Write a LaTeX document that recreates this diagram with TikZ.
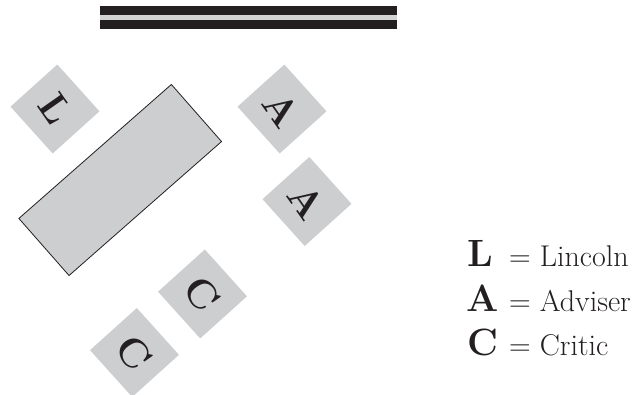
\documentclass[tikz,border=0pt]{standalone}
\usepackage{fontspec}
\definecolor{seatgray}{RGB}{205,206,208}
\definecolor{bargray}{RGB}{210,210,210}
\definecolor{barblack}{RGB}{35,31,32}
\begin{document}
\begin{tikzpicture}[x=1pt,y=-1pt,
  seat/.style={fill=seatgray, minimum size=63pt, inner sep=0pt, rotate=-48},
  seatletter/.style={font=\fontsize{40}{40}\selectfont\bfseries, rotate=-55, inner sep=0pt, text=barblack},
  tablebox/.style={draw=barblack, fill=seatgray, line width=0.8pt, minimum width=203pt, minimum height=76pt, inner sep=0pt, rotate=41.3},
  keyletter/.style={font=\fontsize{38}{38}\selectfont\bfseries, anchor=base west, inner sep=0pt, text=barblack},
  keytext/.style={font=\fontsize{30}{30}\selectfont, anchor=base west, inner sep=0pt, text=barblack}]
\useasboundingbox (0,0) rectangle (643,395);

% wall with double rule
\fill[barblack] (100,6) rectangle (397,15.5);
\fill[bargray] (100,15.5) rectangle (397,20.5);
\fill[barblack] (100,20.5) rectangle (397,29.5);

% the table
\node[tablebox] (table) at (120.2,180) {};

% seats
\node[seat] (seatL) at (55,109) {};
\node[seatletter] (letL) at (seatL.center) {L};
\node[seat] (seatA1) at (282,109) {};
\node[seatletter] (letA1) at (seatA1.center) {A};
\node[seat] (seatA2) at (307,201.5) {};
\node[seatletter] (letA2) at (seatA2.center) {A};
\node[seat] (seatC1) at (202.5,294) {};
\node[seatletter] (letC1) at (seatC1.center) {C};
\node[seat] (seatC2) at (134.5,352.5) {};
\node[seatletter] (letC2) at (seatC2.center) {C};

% key
\node[keyletter] (keyL) at (467,266.5) {L};
\node[keytext] (txtL) at (509,266.5) {= Lincoln};
\node[keyletter] (keyA) at (466,311.5) {A};
\node[keytext] (txtA) at (509,311.5) {= Adviser};
\node[keyletter] (keyC) at (467,356) {C};
\node[keytext] (txtC) at (509,356) {= Critic};
\end{tikzpicture}
\end{document}
